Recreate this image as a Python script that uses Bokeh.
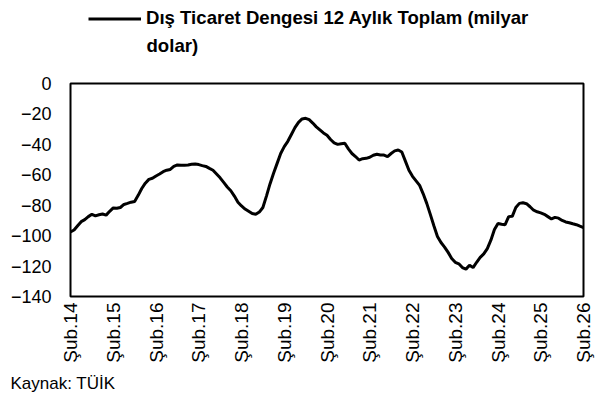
import numpy as np
from bokeh.plotting import figure
from bokeh.layouts import column
from bokeh.models import Range1d, FixedTicker, Legend, LegendItem, Label, ColumnDataSource
from bokeh.embed import file_html
from bokeh.resources import INLINE

# 12-month cumulative foreign trade balance (billion USD), monthly from Şub.14 to Şub.26
values = [
    -97.5, -96.3, -93.5, -90.8, -89.5, -87.5, -86.0, -87.0, -86.3, -85.8, -86.5, -84.0,
    -81.8, -82.0, -81.5, -79.5, -78.8, -78.0, -77.5, -73.5, -69.0, -65.5, -63.0, -62.3,
    -60.8, -59.5, -58.0, -57.0, -56.5, -54.5, -53.5, -53.8, -53.7, -53.6, -53.1, -52.9,
    -53.3, -54.0, -54.5, -55.8, -57.0, -59.5, -62.0, -65.0, -68.0, -70.5, -74.0, -78.0,
    -80.5, -82.5, -84.0, -85.5, -86.0, -84.5, -81.5, -74.0, -66.0, -59.0, -52.5, -46.0,
    -41.5, -38.0, -33.5, -29.0, -25.5, -23.3, -22.9, -23.8, -26.0, -28.5, -30.5, -32.5,
    -34.0, -36.8, -39.0, -40.0, -39.6, -39.3, -43.0, -46.0, -48.0, -50.3, -49.4, -49.2,
    -48.5, -47.2, -46.5, -47.0, -47.0, -48.0, -46.0, -44.3, -43.7, -45.0, -51.0, -57.0,
    -61.0, -64.0, -67.0, -72.5, -78.8, -86.0, -93.5, -100.5, -104.5, -107.5, -111.0, -115.0,
    -117.5, -118.5, -121.0, -122.0, -119.5, -121.0, -117.5, -114.3, -112.0, -108.5, -103.0, -96.0,
    -92.0, -92.5, -92.8, -87.5, -87.3, -81.5, -78.8, -78.4, -79.0, -81.0, -83.3, -84.3,
    -85.0, -86.0, -87.5, -89.0, -88.0, -88.5, -90.0, -91.0, -91.5, -92.2, -92.8, -93.8,
    -94.7,
]
months = list(range(len(values)))

tick_positions = [0, 12, 24, 36, 48, 60, 72, 84, 96, 108, 120, 132, 144]
tick_labels = ["Şub.14", "Şub.15", "Şub.16", "Şub.17", "Şub.18", "Şub.19", "Şub.20",
               "Şub.21", "Şub.22", "Şub.23", "Şub.24", "Şub.25", "Şub.26"]
y_ticks = [0, -20, -40, -60, -80, -100, -120, -140]

series_label_1 = "Dış Ticaret Dengesi 12 Aylık Toplam (milyar"
series_label_2 = "dolar)"
source_text = "Kaynak: TÜİK"

FONT = "Liberation Sans"
W = 606

source = ColumnDataSource(data=dict(month=months, value=values))


def bare_figure(height):
    f = figure(width=W, height=height, output_backend="svg", toolbar_location=None,
               title=None, x_axis_type=None, y_axis_type=None,
               x_range=Range1d(1000, 1001), y_range=Range1d(1000, 1001),
               min_border_left=0, min_border_right=0, min_border_top=0, min_border_bottom=0)
    f.frame_align = False
    f.outline_line_color = None
    f.xgrid.visible = False
    f.ygrid.visible = False
    f.background_fill_color = "white"
    f.border_fill_color = "white"
    return f


# ---- top: legend (its series lies outside this panel's view; only the key is shown) ----
top_h = 73
top = bare_figure(top_h)
legend_line = top.line("month", "value", source=source, line_color="black", line_width=3)
legend = Legend(items=[LegendItem(label=series_label_1, renderers=[legend_line])],
                location=(88, top_h - 31.5), padding=0, margin=0, spacing=0,
                glyph_width=53, glyph_height=27, label_standoff=5,
                border_line_color=None, background_fill_alpha=0,
                label_text_font=FONT, label_text_font_style="bold",
                label_text_font_size="18.6px", label_text_color="black")
top.add_layout(legend)
top.add_layout(Label(x=146, y=top_h - 45, x_units="screen", y_units="screen",
                     text=series_label_2, text_baseline="middle", text_font=FONT,
                     text_font_style="bold", text_font_size="18.6px", text_color="black"))

# ---- main chart ----
p = figure(width=W, height=293, output_backend="svg", toolbar_location=None, title=None,
           x_range=Range1d(0, 144), y_range=Range1d(-140, 0),
           min_border_left=70, min_border_right=23, min_border_top=10, min_border_bottom=70)
p.frame_align = False

p.background_fill_color = "white"
p.border_fill_color = "white"
p.outline_line_color = "black"
p.outline_line_width = 2
p.xgrid.visible = False
p.ygrid.visible = False

for ax in (p.xaxis[0], p.yaxis[0]):
    ax.axis_line_color = None
    ax.major_tick_line_color = None
    ax.minor_tick_line_color = None
    ax.major_tick_in = 0
    ax.major_tick_out = 0
    ax.minor_tick_in = 0
    ax.minor_tick_out = 0
    ax.major_label_text_font = FONT
    ax.major_label_text_color = "black"

p.yaxis.major_label_text_font_size = "18px"
p.xaxis.major_label_text_font_size = "19px"

p.yaxis.ticker = FixedTicker(ticks=y_ticks)
p.yaxis.major_label_standoff = 19

p.xaxis.ticker = FixedTicker(ticks=tick_positions)
p.xaxis.major_label_overrides = {pos: lab for pos, lab in zip(tick_positions, tick_labels)}
p.xaxis.major_label_orientation = np.pi / 2
p.xaxis.major_label_standoff = 6

p.line("month", "value", source=source, line_color="black", line_width=3)

# ---- bottom: source ----
bot_h = 34
bot = bare_figure(bot_h)
bot.add_layout(Label(x=10, y=bot_h - 17, x_units="screen", y_units="screen",
                     text=source_text, text_baseline="middle", text_font=FONT,
                     text_font_size="17px", text_color="black"))

layout = column(top, p, bot, spacing=0)
open("out.html", "w").write(file_html(layout, INLINE))
